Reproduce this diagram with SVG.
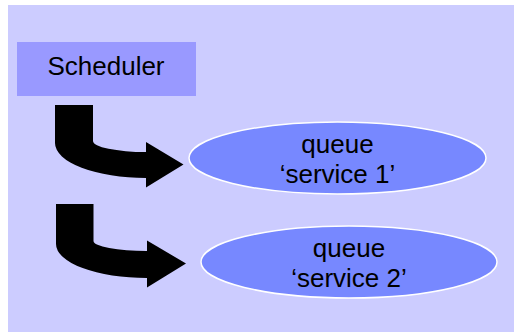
<svg xmlns="http://www.w3.org/2000/svg" width="514" height="332" viewBox="0 0 514 332">
<style>
.lbl{font-family:"Liberation Sans",Arial,sans-serif;font-size:26px;fill:#000;text-anchor:middle}
.q{fill:#7788ff;stroke:#ffffff;stroke-width:1.5}
.arr{fill:#000}
</style>
<rect x="0" y="0" width="514" height="332" fill="#ffffff"/>
<rect x="8" y="5" width="506" height="327" fill="#ccccff"/>
<g id="scheduler">
<rect x="17" y="42" width="179" height="54" fill="#9999ff"/>
<text class="lbl" x="106" y="75">Scheduler</text>
</g>
<g id="queue1">
<ellipse class="q" cx="337.5" cy="158" rx="148.5" ry="36"/>
<text class="lbl" x="337.5" y="153">queue</text>
<text class="lbl" x="337.5" y="183">‘service 1’</text>
</g>
<g id="queue2">
<ellipse class="q" cx="349" cy="262" rx="148" ry="36"/>
<text class="lbl" x="349" y="257">queue</text>
<text class="lbl" x="349" y="287">‘service 2’</text>
</g>
<g id="connectors">
<path class="arr" d="M55,105 H93 V141 A53,11 0 0 0 146,152 V142 L183.5,164.5 L146,187.5 V178 A91,35 0 0 1 55,143 Z"/>
<path class="arr" d="M56,204 H93.5 V241 A53,10 0 0 0 147,251 V240.5 L186,263.5 L147,287.5 V278 A91,34 0 0 1 56,244 Z"/>
</g>
</svg>
